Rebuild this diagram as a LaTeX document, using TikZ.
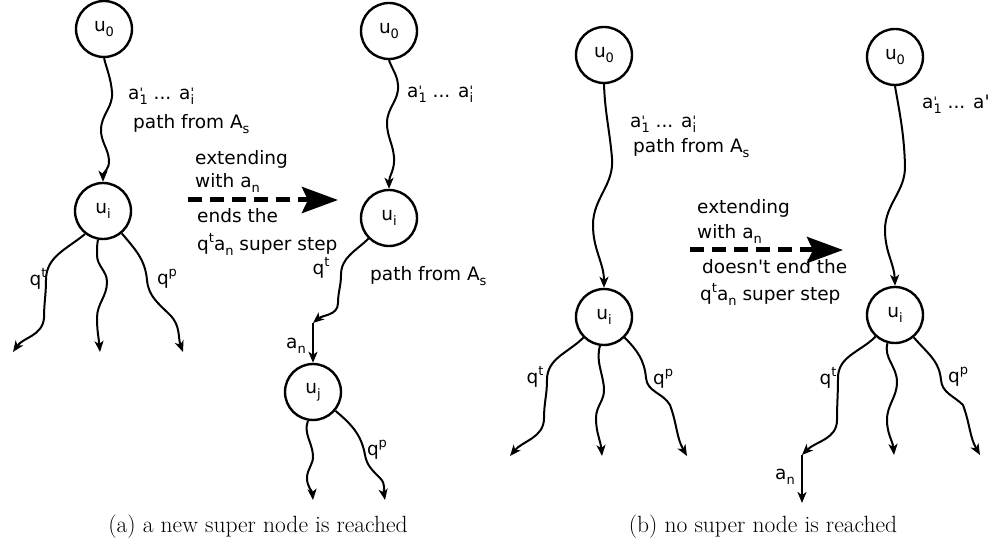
\documentclass[tikz,border=0pt]{standalone}
\usepackage{fontspec}
\newfontfamily\lab{DejaVu Sans}
\usetikzlibrary{arrows.meta}
% small lowered / raised indices in the label font
\newcommand\lo[1]{\raisebox{-5pt}{\fontsize{13pt}{13pt}\selectfont #1}}
\newcommand\hi[1]{\raisebox{8pt}{\fontsize{13pt}{13pt}\selectfont #1}}
% a' with a lowered index under the prime
\newcommand\ap[1]{a\rlap{\raisebox{2pt}{\fontsize{13pt}{13pt}\selectfont '}}\lo{#1}}
\begin{document}
\begin{tikzpicture}[x=1pt,y=1pt,
  state/.style={circle,draw,line width=2.4pt,minimum size=56pt,inner sep=0pt,
    font=\lab\fontsize{18.5pt}{20pt}\selectfont},
  lbl/.style={font=\lab\fontsize{18.5pt}{20pt}\selectfont,inner sep=0pt},
  wav/.style={line width=2pt,-{Stealth[length=11pt,width=9pt,inset=3pt]}},
  bigarrow/.style={line width=5pt,dash pattern=on 14pt off 8pt,
    -{Stealth[length=36pt,width=26pt,inset=6pt]}},
  capt/.style={font=\fontsize{23.5pt}{26pt}\selectfont,inner sep=0pt,anchor=base}]
\useasboundingbox (0,0) rectangle (994,-548);

% ---------- (a) first tree ----------
\node[state] (a0) at (104,-29) {u\lo{0}};
\node[state] (ai) at (103,-211) {u\lo{i}};
\coordinate (aL) at (13,-352);
\coordinate (aM) at (100,-352);
\coordinate (aR) at (183,-352);
\draw[wav] (a0.south) to[out=-75,in=95] (112,-92) to[out=-85,in=90] (101,-130)
  to[out=-90,in=95] (109,-160) to[out=-85,in=90] (ai.north);
\draw[wav] (ai.232) to[out=-140,in=90] (46,-280) to[out=-90,in=90] (44,-318)
  to[out=-95,in=55] (aL);
\draw[wav] (ai.260) to[out=-100,in=90] (97,-255) to[out=-90,in=90] (107,-282)
  to[out=-90,in=90] (97,-318) to[out=-90,in=95] (aM);
\draw[wav] (ai.-50) to[out=-50,in=95] (147,-280) to[out=-85,in=135] (170,-315)
  to[out=-45,in=110] (aR);
\node[lbl,anchor=base west] (al1) at (128,-100) {\ap{1} ... \ap{i}};
\node[lbl,anchor=base west] (al2) at (133,-129) {path from A\lo{s}};
\node[lbl] (aqt) at (38,-279) {q\hi{t}};
\node[lbl] (aqp) at (167,-279) {q\hi{p}};

% ---------- (a) extension arrow ----------
\coordinate (da1) at (188,-200);
\coordinate (da2) at (338,-200);
\draw[bigarrow] (da1) -- (da2);
\node[lbl,anchor=base west] (ta1) at (195,-165) {extending};
\node[lbl,anchor=base west] (ta2) at (195,-188) {with a\lo{n}};
\node[lbl,anchor=base west] (ta3) at (197,-223) {ends the};
\node[lbl,anchor=base west] (ta4) at (197,-251) {q\hi{t}a\lo{n} super step};

% ---------- (a) second tree ----------
\node[state] (b0) at (389,-31) {u\lo{0}};
\node[state] (bi) at (389,-218) {u\lo{i}};
\node[state] (bj) at (313,-392) {u\lo{j}};
\coordinate (bt) at (313,-323);
\coordinate (bM) at (313,-500);
\coordinate (bR) at (385,-500);
\draw[wav] (b0.south) to[out=-70,in=95] (398,-85) to[out=-85,in=90] (387,-123)
  to[out=-90,in=95] (394,-157) to[out=-85,in=90] (bi.north);
\draw[wav] (bi.225) to[out=-135,in=90] (341,-275) to[out=-90,in=90] (338,-303)
  to[out=-90,in=40] (bt);
\draw[wav] (bt) -- (bj.north);
\draw[wav] (bj.260) to[out=-110,in=95] (313,-455) to[out=-85,in=90] (307,-478)
  to[out=-90,in=95] (bM);
\draw[wav] (bj.-40) to[out=-40,in=100] (365,-455) to[out=-80,in=135] (380,-478)
  to[out=-45,in=100] (bR);
\node[lbl,anchor=base west] (bl1) at (407,-98) {\ap{1} ... \ap{i}};
\node[lbl,anchor=base west] (bl2) at (370,-281) {path from A\lo{s}};
\node[lbl] (bqt) at (321,-268) {q\hi{t}};
\node[lbl] (ban) at (296,-346) {a\lo{n}};
\node[lbl] (bqp) at (377,-450) {q\hi{p}};

% ---------- (b) first tree ----------
\node[state] (c0) at (604,-55) {u\lo{0}};
\node[state] (ci) at (604,-317) {u\lo{i}};
\coordinate (cL) at (510,-456);
\coordinate (cM) at (602,-456);
\coordinate (cR) at (687,-456);
\draw[wav] (c0.south) to[out=-88,in=95] (612,-158) to[out=-85,in=90] (593,-225)
  to[out=-90,in=90] (ci.north);
\draw[wav] (ci.225) to[out=-135,in=90] (547,-380) to[out=-90,in=90] (544,-418)
  to[out=-90,in=50] (cL);
\draw[wav] (ci.262) to[out=-105,in=95] (604,-388) to[out=-85,in=90] (596,-418)
  to[out=-90,in=95] (cM);
\draw[wav] (ci.-45) to[out=-45,in=95] (646,-378) to[out=-85,in=120] (670,-405)
  to[out=-70,in=120] (cR);
\node[lbl,anchor=base west] (cl1) at (630,-128) {\ap{1} ... \ap{i}};
\node[lbl,anchor=base west] (cl2) at (633,-153) {path from A\lo{s}};
\node[lbl] (cqt) at (535,-377) {q\hi{t}};
\node[lbl] (cqp) at (663,-379) {q\hi{p}};

% ---------- (b) extension arrow ----------
\coordinate (db1) at (690,-250);
\coordinate (db2) at (843,-250);
\draw[bigarrow] (db1) -- (db2);
\node[lbl,anchor=base west] (tb1) at (697,-214) {extending};
\node[lbl,anchor=base west] (tb2) at (697,-239) {with a\lo{n}};
\node[lbl,anchor=base west] (tb3) at (702,-274) {doesn't end the};
\node[lbl,anchor=base west] (tb4) at (700,-301) {q\hi{t}a\lo{n} super step};

% ---------- (b) second tree ----------
\node[state] (d0) at (895,-57) {u\lo{0}};
\node[state] (di) at (895,-315) {u\lo{i}};
\coordinate (dT) at (802,-455);
\coordinate (dA) at (802,-503);
\coordinate (dM) at (894,-455);
\coordinate (dR) at (980,-455);
\draw[wav] (d0.south) to[out=-80,in=92] (905,-165) to[out=-88,in=90] (885,-230)
  to[out=-90,in=92] (di.north);
\draw[wav] (di.228) to[out=-135,in=90] (838,-378) to[out=-90,in=90] (837,-420)
  to[out=-90,in=45] (dT);
\draw[wav] (dT) -- (dA);
\draw[wav] (di.255) to[out=-105,in=90] (897,-382) to[out=-90,in=90] (887,-420)
  to[out=-90,in=95] (dM);
\draw[wav] (di.-50) to[out=-50,in=95] (941,-380) to[out=-85,in=135] (963,-405)
  to[out=-70,in=120] (dR);
\node[lbl,anchor=base west] (dl1) at (922,-109) {\ap{1} ... a'};
\node[lbl] (dqt) at (828,-378) {q\hi{t}};
\node[lbl] (dan) at (785,-477) {a\lo{n}};
\node[lbl] (dqp) at (958,-377) {q\hi{p}};

% ---------- captions ----------
\node[capt] (capa) at (258,-532) {(a) a new super node is reached};
\node[capt] (capb) at (763,-532) {(b) no super node is reached};
\end{tikzpicture}
\end{document}
